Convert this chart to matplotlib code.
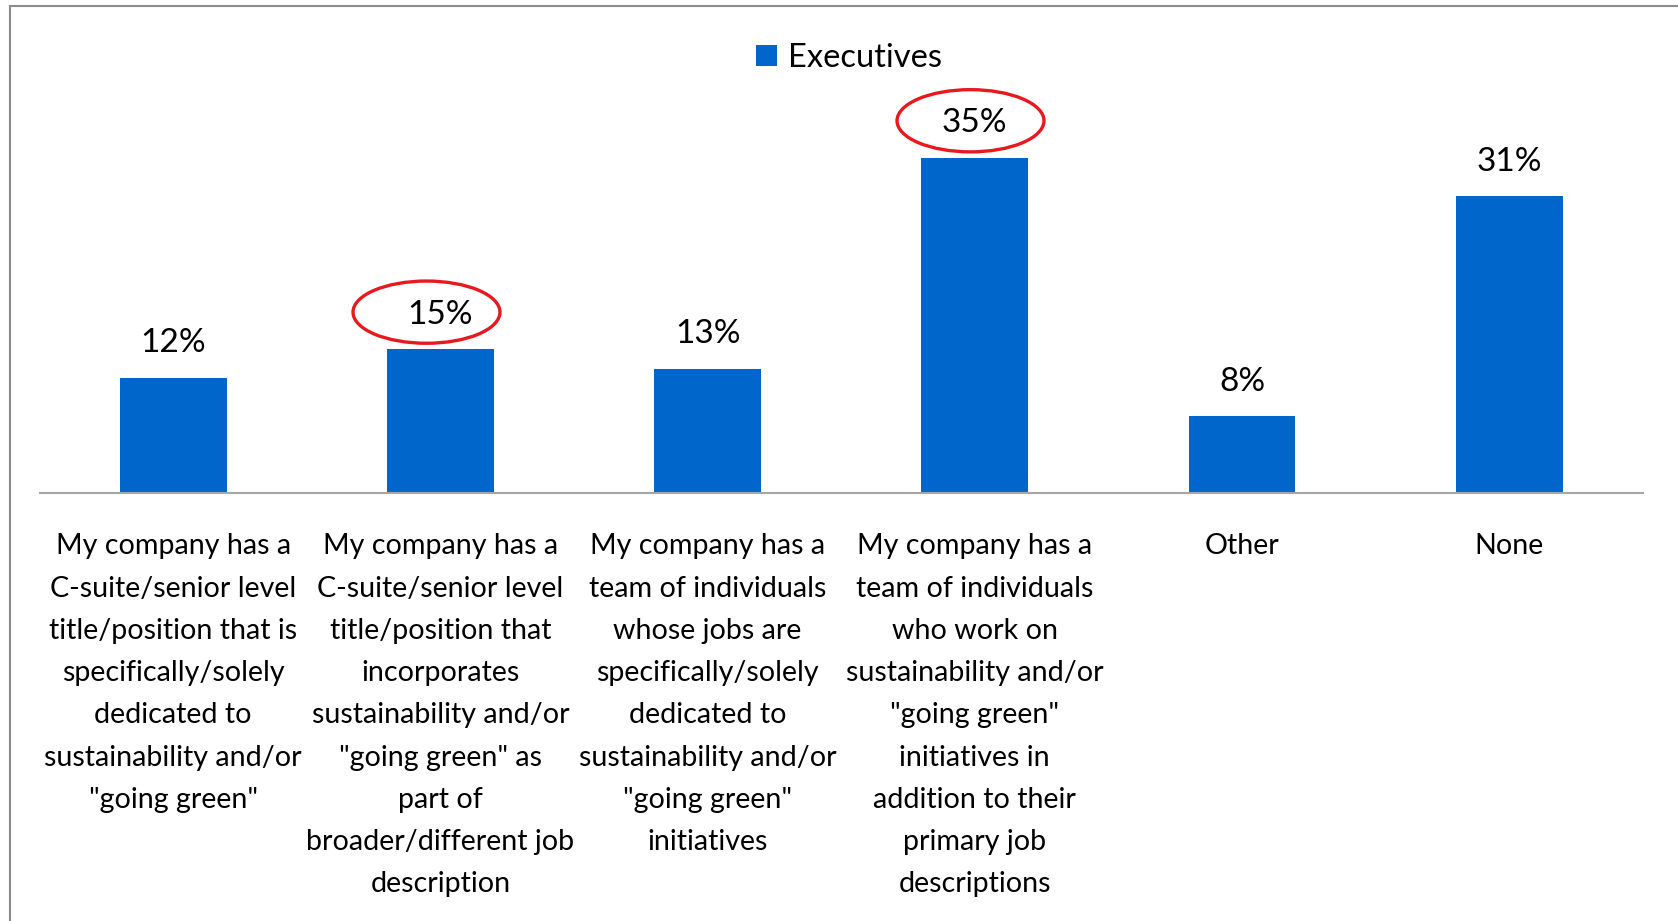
import matplotlib
matplotlib.use("Agg")
import matplotlib.pyplot as plt
from matplotlib.patches import Ellipse, Rectangle

plt.rcParams['font.family'] = ['Lato', 'DejaVu Sans']

# survey answers, one bar each
categories = [
    'My company has a\nC-suite/senior level\ntitle/position that is\nspecifically/solely\ndedicated to\nsustainability and/or\n"going green"',
    'My company has a\nC-suite/senior level\ntitle/position that\nincorporates\nsustainability and/or\n"going green" as\npart of\nbroader/different job\ndescription',
    'My company has a\nteam of individuals\nwhose jobs are\nspecifically/solely\ndedicated to\nsustainability and/or\n"going green"\ninitiatives',
    'My company has a\nteam of individuals\nwho work on\nsustainability and/or\n"going green"\ninitiatives in\naddition to their\nprimary job\ndescriptions',
    'Other',
    'None',
]
executives = [12, 15, 13, 35, 8, 31]
circled = [1, 3]

bar_color = '#0066CC'

fig = plt.figure(figsize=(16.78, 9.21), dpi=100)
ax = fig.add_axes([0.0236, 0.4647, 0.9554, 0.4156])

x = range(len(categories))
bars = ax.bar(x, executives, width=0.4, color=bar_color, label='Executives', zorder=2)

ax.set_xlim(-0.5, len(categories) - 0.5)
ax.set_ylim(0, 40)

for i, v in zip(x, executives):
    ax.annotate(f'{v}%', (i, v), xytext=(0, 25), textcoords='offset points',
                ha='center', va='center', fontsize=24, color='black')

# red rings drawn around the two highlighted values
shift = {1: -0.052, 3: -0.016}
for i in circled:
    ring = Ellipse((i + shift[i], executives[i] + 3.9), 0.55, 6.5,
                   fill=False, edgecolor='#E8191E', lw=2.4, zorder=3,
                   clip_on=False)
    ax.add_patch(ring)

ax.set_xticks(list(x))
ax.set_xticklabels(categories, fontsize=20.6, linespacing=1.775)
ax.tick_params(axis='x', length=0, pad=29)
ax.set_yticks([])

for side in ['left', 'right', 'top']:
    ax.spines[side].set_visible(False)
ax.spines['bottom'].set_color('#A6A6A6')
ax.spines['bottom'].set_linewidth(1.5)

fig.legend(handles=[bars], labels=['Executives'], loc='center',
           bbox_to_anchor=(0.506, 0.937), bbox_transform=fig.transFigure,
           frameon=False, fontsize=23.5, handlelength=0.64, handleheight=0.64,
           handletextpad=0.35, borderpad=0)

# outer chart border
fig.add_artist(Rectangle((10 / 1678, -0.1), 1.2, 1.1 - 6 / 921,
                         transform=fig.transFigure, fill=False,
                         edgecolor='#8C8C8C', lw=1.5))

fig.savefig('out.png', dpi=100)
